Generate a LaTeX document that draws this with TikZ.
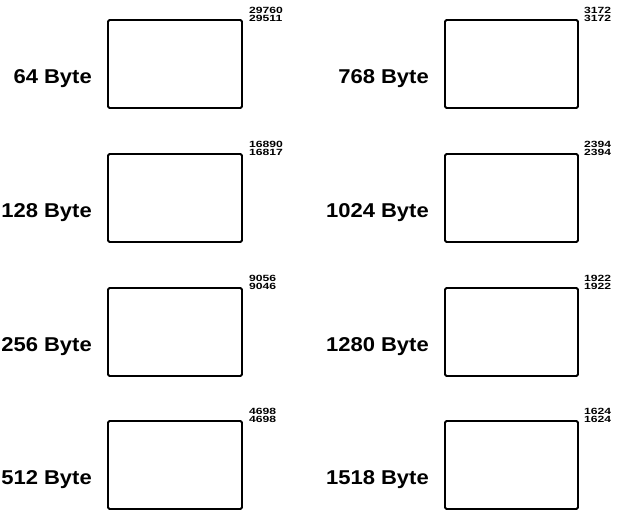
\documentclass[tikz,border=0pt]{standalone}
\usepackage{fontspec}
\usepackage{graphicx}
\setmainfont{Liberation Sans}
\newcommand{\widelab}[1]{\scalebox{1.1}[1]{#1}}
\newcommand{\widenum}[1]{\scalebox{1.35}[1]{#1}}
\begin{document}
\begin{tikzpicture}[x=1pt,y=-1pt,
  frame/.style={draw,line width=1.8pt,rounded corners=1.5pt},
  lab/.style={anchor=east,inner sep=0pt,font=\fontsize{20}{22}\selectfont\bfseries},
  nums/.style={anchor=north west,inner sep=0pt,font=\fontsize{9}{9}\selectfont\bfseries}]
\useasboundingbox (0,0) rectangle (621,512);
\foreach \t/\la/\na/\nb/\lb/\nc/\nd [count=\i] in {20/64/29760/29511/768/3172/3172,154/128/16890/16817/1024/2394/2394,288/256/9056/9046/1280/1922/1922,421/512/4698/4698/1518/1624/1624}{
  \draw[frame] (108,\t) rectangle (242,\t+88) node[coordinate] (L\i) {};
  \node[lab] (la\i) at (92,\t+59) {\widelab{\la{} Byte}};
  \node[nums] (na\i) at (249,\t-13) {\widenum{\na}};
  \node[nums] (nb\i) at (249,\t-5) {\widenum{\nb}};
  \draw[frame] (445,\t) rectangle (578,\t+88) node[coordinate] (R\i) {};
  \node[lab] (lb\i) at (429,\t+59) {\widelab{\lb{} Byte}};
  \node[nums] (nc\i) at (584,\t-13) {\widenum{\nc}};
  \node[nums] (nd\i) at (584,\t-5) {\widenum{\nd}};
}
\end{tikzpicture}
\end{document}
